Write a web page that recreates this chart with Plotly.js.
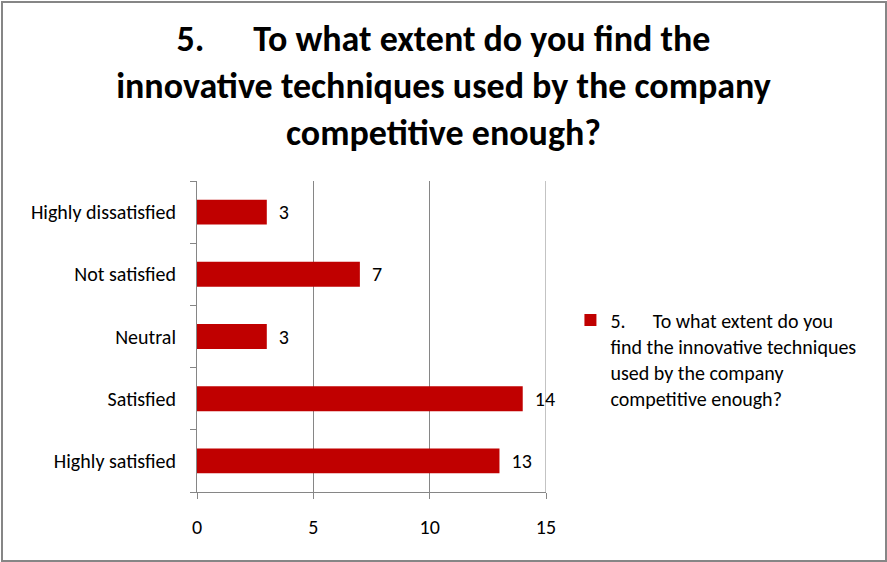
<!DOCTYPE html>
<html>
<head>
<meta charset="utf-8">
<script src="https://cdn.plot.ly/plotly-3.0.1.min.js"></script>
<style>
html,body{margin:0;padding:0;background:#fff;}
#wrap{position:relative;width:887px;height:562px;}
#chart{position:absolute;left:0;top:0;width:887px;height:562px;}
#frame{position:absolute;left:1px;top:1px;width:882px;height:557px;border:2px solid #868686;pointer-events:none;}
</style>
</head>
<body>
<div id="wrap"><div id="chart"></div><div id="frame"></div></div>
<script>
var categories = ["Highly satisfied", "Satisfied", "Neutral", "Not satisfied", "Highly dissatisfied"];
var values = [13, 14, 3, 7, 3];
var seriesName = "5.&nbsp;&nbsp;&nbsp;&nbsp;&nbsp;&nbsp;To what extent do you<br>find the innovative techniques<br>used by the company<br>competitive enough?";
var titleText = "5.&nbsp;&nbsp;&nbsp;&nbsp;&nbsp;&nbsp;To what extent do you find the<br>innovative techniques used by the company<br>competitive enough?";
var xTicks = [0, 5, 10, 15];
var xMax = 15;

var font = "Calibri, Carlito, Lato, 'Open Sans', sans-serif";

var trace = {
  type: "bar",
  orientation: "h",
  y: categories,
  x: values,
  name: seriesName,
  marker: {color: "#C00000"},
  text: values.map(String),
  texttemplate: "&nbsp;&nbsp;%{x}",
  textposition: "outside",
  cliponaxis: false,
  textfont: {family: font, size: 20, color: "#000"},
  showlegend: true
};

var layout = {
  width: 887, height: 562,
  margin: {l: 197, r: 341, t: 181, b: 70},
  paper_bgcolor: "#fff",
  plot_bgcolor: "#fff",
  font: {family: font, size: 20, color: "#000"},
  title: {
    text: titleText,
    font: {family: font, size: 36, color: "#000", weight: "bold"},
    x: 0.5, xref: "container", xanchor: "center",
    y: 1 - 51/562, yref: "container", yanchor: "middle"
  },
  bargap: 0.6,
  xaxis: {
    range: [0, xMax],
    tickvals: xTicks,
    ticktext: xTicks.map(String),
    showgrid: true, gridcolor: "#868686", gridwidth: 1,
    zeroline: false,
    showline: true, linecolor: "#868686", linewidth: 1,
    ticks: "outside", ticklen: 6, tickcolor: "#868686",
    tickfont: {family: font, size: 20, color: "#000"},
    ticklabelstandoff: 11,
    fixedrange: true
  },
  yaxis: {
    type: "category",
    categoryorder: "array",
    categoryarray: categories,
    showline: true, linecolor: "#868686", linewidth: 1,
    showgrid: false, zeroline: false,
    ticks: "outside", ticklen: 6, tickcolor: "#868686",
    tickson: "boundaries",
    tickfont: {family: font, size: 20, color: "#000"},
    ticklabelstandoff: 16,
    fixedrange: true
  },
  shapes: [{
    type: "line", xref: "x", yref: "paper",
    x0: xMax, x1: xMax, y0: 0, y1: 1,
    line: {color: "#868686", width: 1},
    layer: "below"
  }],
  showlegend: true,
  legend: {
    x: 1.07, xanchor: "left",
    y: 0.616, yanchor: "top",
    valign: "top",
    font: {family: font, size: 20, color: "#000"},
    bgcolor: "rgba(0,0,0,0)",
    itemwidth: 30
  }
};

Plotly.newPlot("chart", [trace], layout, {displayModeBar: false, staticPlot: true});
</script>
</body>
</html>
